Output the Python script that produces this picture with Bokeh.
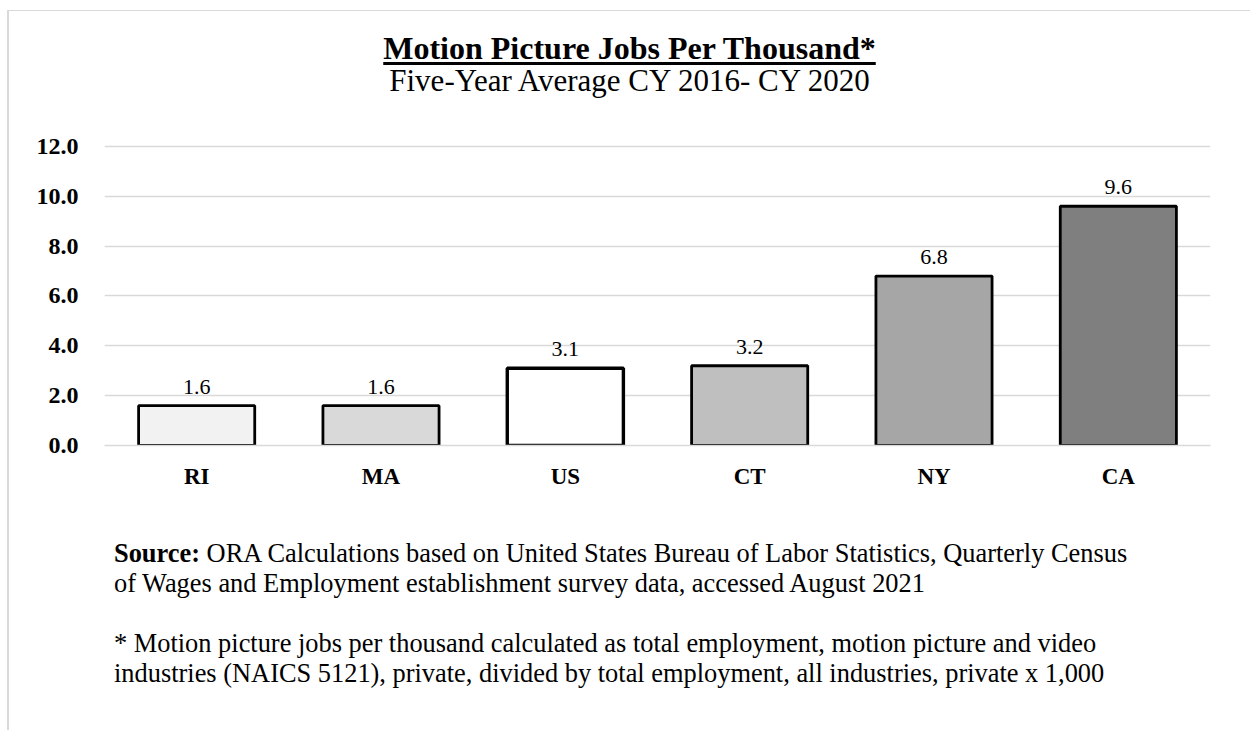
from bokeh.plotting import figure
from bokeh.models import ColumnDataSource, LabelSet, FixedTicker, Div
from bokeh.layouts import column
from bokeh.embed import file_html
from bokeh.resources import INLINE

categories = ["RI", "MA", "US", "CT", "NY", "CA"]
values = [1.6, 1.6, 3.1, 3.2, 6.8, 9.6]
fills = ["#f2f2f2", "#d9d9d9", "#ffffff", "#bfbfbf", "#a6a6a6", "#7f7f7f"]
outline_widths = [2.8, 2.8, 3.4, 2.8, 2.8, 2.8]
value_labels = [f"{v:.1f}" for v in values]
y_ticks = [0, 2, 4, 6, 8, 10, 12]
y_tick_labels = {t: f"{t:.1f}" for t in y_ticks}

title_text = "Motion Picture Jobs Per Thousand*"
subtitle_text = "Five-Year Average CY 2016- CY 2020"
source_bold = "Source:"
source_line1 = "ORA Calculations based on United States Bureau of Labor Statistics, Quarterly Census"
source_line2 = "of Wages and Employment establishment survey data, accessed August 2021"
note_line1 = "* Motion picture jobs per thousand calculated as total employment, motion picture and video"
note_line2 = "industries (NAICS 5121), private, divided by total employment, all industries, private x 1,000"

FONT = "Liberation Serif"
OFF_X, OFF_Y = 9, 11          # border offset of the whole panel
W = 1250 - OFF_X
TITLE_H, FIG_H, NOTES_H = 89, 400, 230

title_div = Div(
    text=(
        f'<div style="font-family:\'{FONT}\'; color:black; text-align:center; '
        f'padding-top:21px; width:{W}px;">'
        f'<div style="font-size:32px; font-weight:bold; line-height:32px; '
        f'text-decoration:underline; text-decoration-thickness:3px; '
        f'text-underline-offset:3px;">{title_text}</div>'
        f'<div style="font-size:31px; line-height:31px; margin-top:1px;">{subtitle_text}</div>'
        f'</div>'
    ),
    width=W, height=TITLE_H, margin=0,
)

src = ColumnDataSource(dict(cat=categories, val=values, fill=fills, lw=outline_widths, lab=value_labels))

Y_MAX = 12.4
p = figure(x_range=categories, y_range=(0, Y_MAX), width=W, height=FIG_H,
           output_backend="svg", toolbar_location=None,
           min_border_left=95, min_border_right=40,
           min_border_top=36, min_border_bottom=55, margin=0)
p.outline_line_color = None
p.background_fill_color = "white"
p.border_fill_color = "white"

p.vbar(x="cat", top="val", width=0.63, source=src, fill_color="fill",
       line_color="black", line_width="lw")

p.xgrid.grid_line_color = None
p.ygrid.grid_line_color = "#d9d9d9"
p.ygrid.grid_line_width = 1.5
p.ygrid.level = "underlay"

p.yaxis.ticker = FixedTicker(ticks=y_ticks)
p.yaxis.major_label_overrides = y_tick_labels
p.yaxis.axis_line_color = None
p.yaxis.major_tick_line_color = None
p.yaxis.minor_tick_line_color = None
p.yaxis.major_label_text_font = FONT
p.yaxis.major_label_text_font_style = "bold"
p.yaxis.major_label_text_font_size = "24px"
p.yaxis.major_label_text_color = "black"
p.yaxis.major_label_standoff = 20

p.xaxis.axis_line_color = "#d9d9d9"
p.xaxis.axis_line_width = 1.5
p.xaxis.major_tick_line_color = None
p.xaxis.minor_tick_line_color = None
p.xaxis.major_label_text_font = FONT
p.xaxis.major_label_text_font_style = "bold"
p.xaxis.major_label_text_font_size = "23px"
p.xaxis.major_label_text_color = "black"
p.xaxis.major_label_standoff = 12

labels = LabelSet(x="cat", y="val", text="lab", source=src, text_align="center",
                  text_baseline="bottom", y_offset=12, text_font=FONT,
                  text_font_size="22px", text_color="black")
p.add_layout(labels)

notes_div = Div(
    text=(
        f'<div style="font-family:\'{FONT}\'; color:black; font-size:26.4px; line-height:30px; '
        f'white-space:nowrap; padding-top:38px; padding-left:105px;">'
        f'<div><b>{source_bold}</b> {source_line1}<br>{source_line2}</div>'
        f'<div style="margin-top:30px;">{note_line1}<br>{note_line2}</div>'
        f'</div>'
    ),
    width=W, height=NOTES_H, margin=0,
)

layout = column(title_div, p, notes_div, spacing=0,
                styles={"margin-left": "7px", "margin-top": "10px",
                        "border-left": "2px solid #d9d9d9",
                        "border-top": "1px solid #d9d9d9"})

open("out.html", "w").write(file_html(layout, INLINE))
